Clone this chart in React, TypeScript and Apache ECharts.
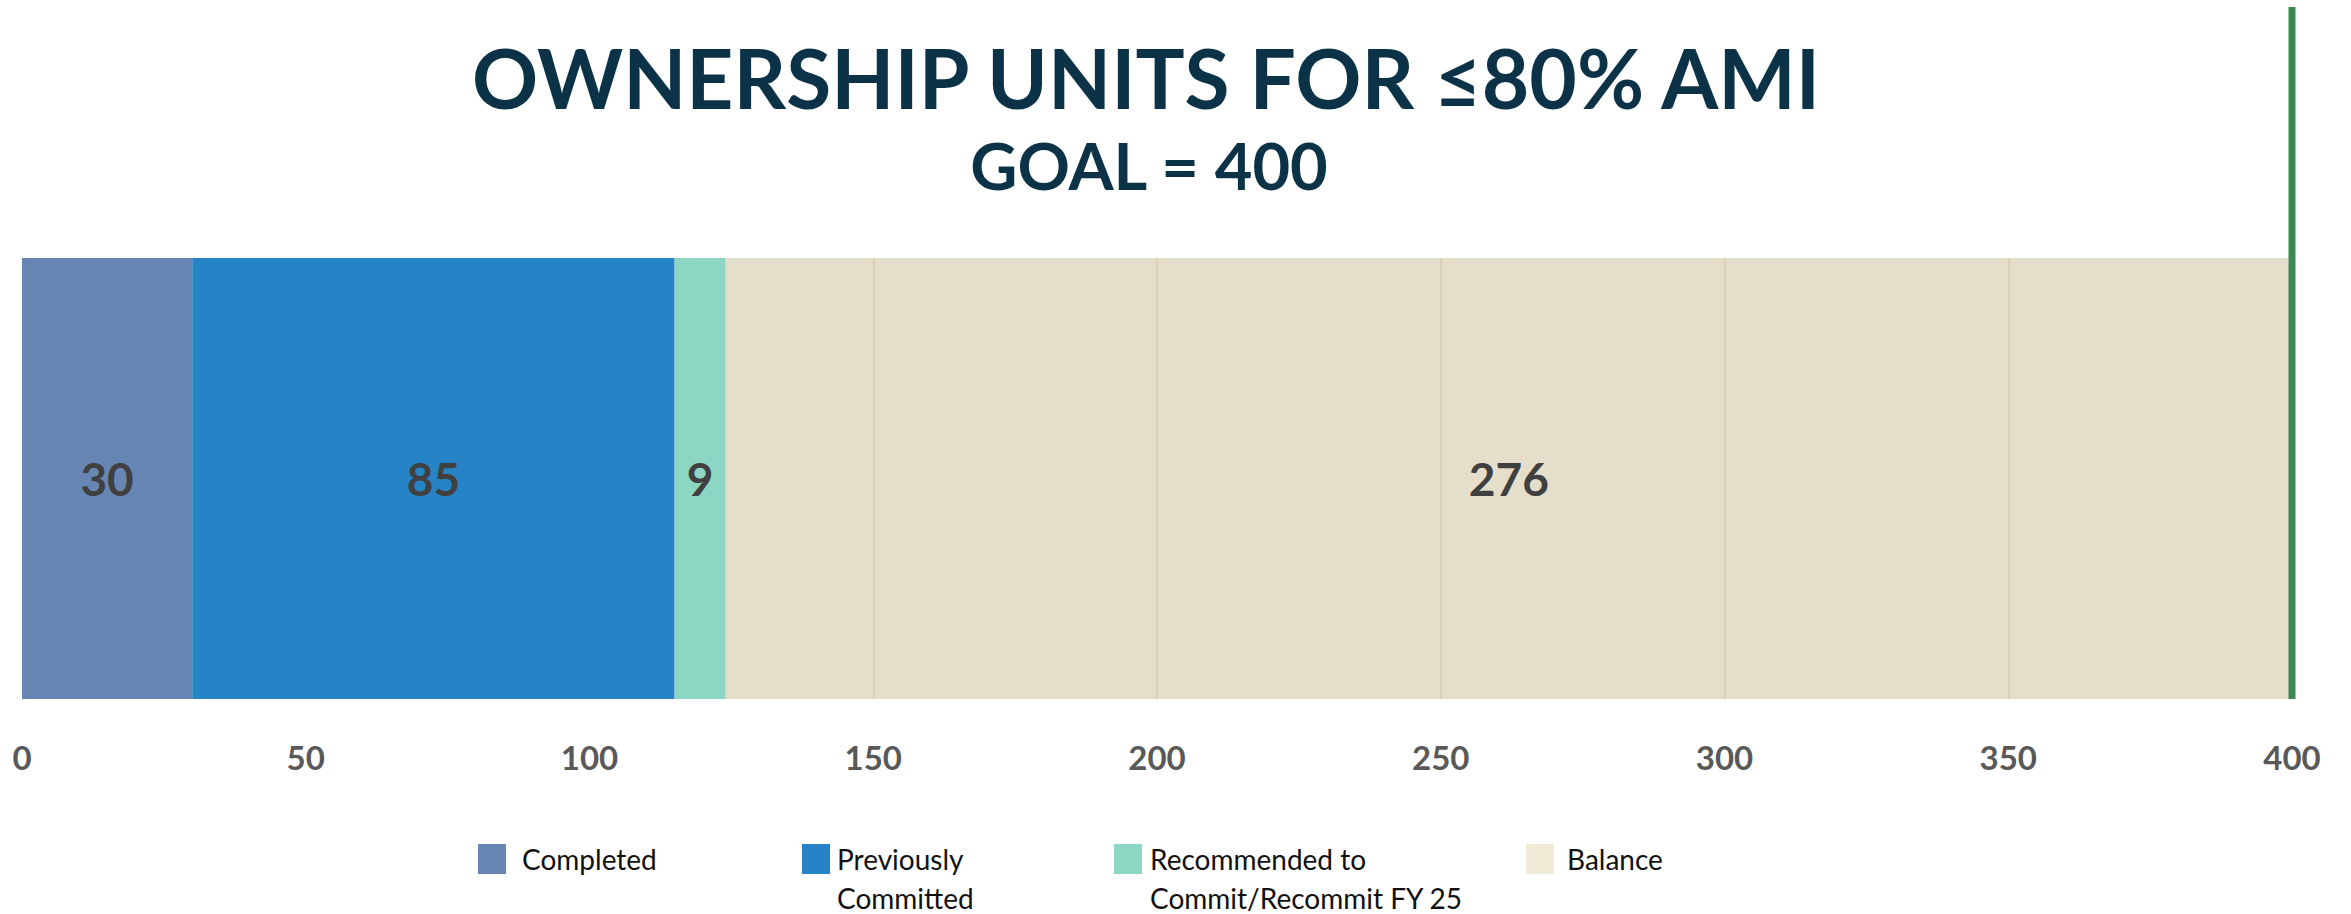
import React, { useEffect, useRef } from "react";
import * as echarts from "echarts";

const TITLE = "OWNERSHIP UNITS FOR ≤80% AMI";
const SUBTITLE = "GOAL = 400";
const CATEGORIES = ["Ownership Units"];
const SERIES_NAMES = ["Completed", "Previously Committed", "Recommended to Commit/Recommit FY 25", "Balance"];
const LEGEND_LABELS = ["Completed", "Previously\nCommitted", "Recommended to\nCommit/Recommit FY 25", "Balance"];
const COMPLETED = [30];
const PREVIOUSLY_COMMITTED = [85];
const RECOMMENDED = [9];
const BALANCE = [276];
const GOAL = 400;
const X_TICKS = [0, 50, 100, 150, 200, 250, 300, 350, 400];

const COLORS = ["#6886B4", "#2683C6", "#8ED6C4", "#E5DECA"];
const LEGEND_COLORS = ["#6886B4", "#2683C6", "#8ED6C4", "#EFEBD7"];

export default function App() {
  const ref = useRef<HTMLDivElement>(null);
  useEffect(() => {
    document.body.style.margin = "0";
    if (!ref.current) return;
    const chart = echarts.init(ref.current, null, { renderer: "svg" });
    const values = [COMPLETED, PREVIOUSLY_COMMITTED, RECOMMENDED, BALANCE];
    const balanceStart = COMPLETED[0] + PREVIOUSLY_COMMITTED[0] + RECOMMENDED[0];
    const innerTicks = X_TICKS.filter((t) => t > balanceStart && t < GOAL);

    const legendLefts = [478, 802, 1114, 1526];
    const textGaps = [16, 7, 8, 13];
    const iconCenter = 859;
    const lineH = 39;

    const legends = SERIES_NAMES.map((name, i) => {
      const twoLine = LEGEND_LABELS[i].includes("\n");
      return {
        data: [{ name, itemStyle: { color: LEGEND_COLORS[i] } }],
        left: legendLefts[i],
        top: twoLine ? iconCenter - (lineH * 3) / 2 : iconCenter - lineH / 2,
        padding: 0,
        itemWidth: 28,
        itemHeight: 30,
        icon: "rect",
        selectedMode: false,
        formatter: () => (twoLine ? "\n" + LEGEND_LABELS[i] : LEGEND_LABELS[i]),
        textStyle: {
          fontFamily: "Lato",
          fontSize: 28,
          color: "#111111",
          lineHeight: lineH,
          padding: [0, 0, 0, textGaps[i] - 5],
        },
      };
    });

    const series: any[] = SERIES_NAMES.map((name, i) => ({
      name,
      type: "bar",
      stack: "total",
      data: values[i],
      barCategoryGap: "0%",
      barWidth: "100%",
      itemStyle: { color: COLORS[i] },
      label: {
        show: true,
        position: "inside",
        fontFamily: "Lato",
        fontWeight: "bold",
        fontSize: 46,
        color: "#404040",
      },
      emphasis: { disabled: true },
      markLine:
        i === 3
          ? {
              silent: true,
              symbol: "none",
              label: { show: false },
              lineStyle: { color: "#D5CCB7", width: 1.5, type: "solid" },
              data: innerTicks.map((t) => ({ xAxis: t })),
            }
          : undefined,
    }));

    chart.setOption({
      animation: false,
      backgroundColor: "#ffffff",
      title: [
        {
          text: TITLE,
          left: 1141,
          top: 31,
          textAlign: "center",
          textStyle: { fontFamily: "Lato", fontWeight: "bold", fontSize: 82, color: "#0C3248" },
        },
        {
          text: SUBTITLE,
          left: 1144,
          top: 127,
          textAlign: "center",
          textStyle: { fontFamily: "Lato", fontWeight: "bold", fontSize: 65, color: "#0C3248" },
        },
      ],
      legend: legends,
      grid: { left: 22, right: 59, top: 258, bottom: 215, containLabel: false },
      xAxis: {
        type: "value",
        min: 0,
        max: GOAL,
        interval: 50,
        axisLine: { show: false },
        axisTick: { show: false },
        splitLine: { show: false },
        axisLabel: {
          margin: 41,
          fontFamily: "Lato",
          fontWeight: "bold",
          fontSize: 33,
          color: "#595959",
        },
      },
      yAxis: {
        type: "category",
        data: CATEGORIES,
        show: false,
      },
      series,
    });

    const gx = chart.convertToPixel({ xAxisIndex: 0 }, GOAL) as number;
    const gridBottom = 914 - 215;
    chart.setOption({
      graphic: [
        {
          type: "line",
          shape: { x1: gx, y1: 7, x2: gx, y2: gridBottom },
          style: { stroke: "#3B8A55", lineWidth: 7 },
          z: 10,
          silent: true,
        },
      ],
    });

    return () => chart.dispose();
  }, []);
  return <div ref={ref} style={{ width: 2351, height: 914 }} />;
}
